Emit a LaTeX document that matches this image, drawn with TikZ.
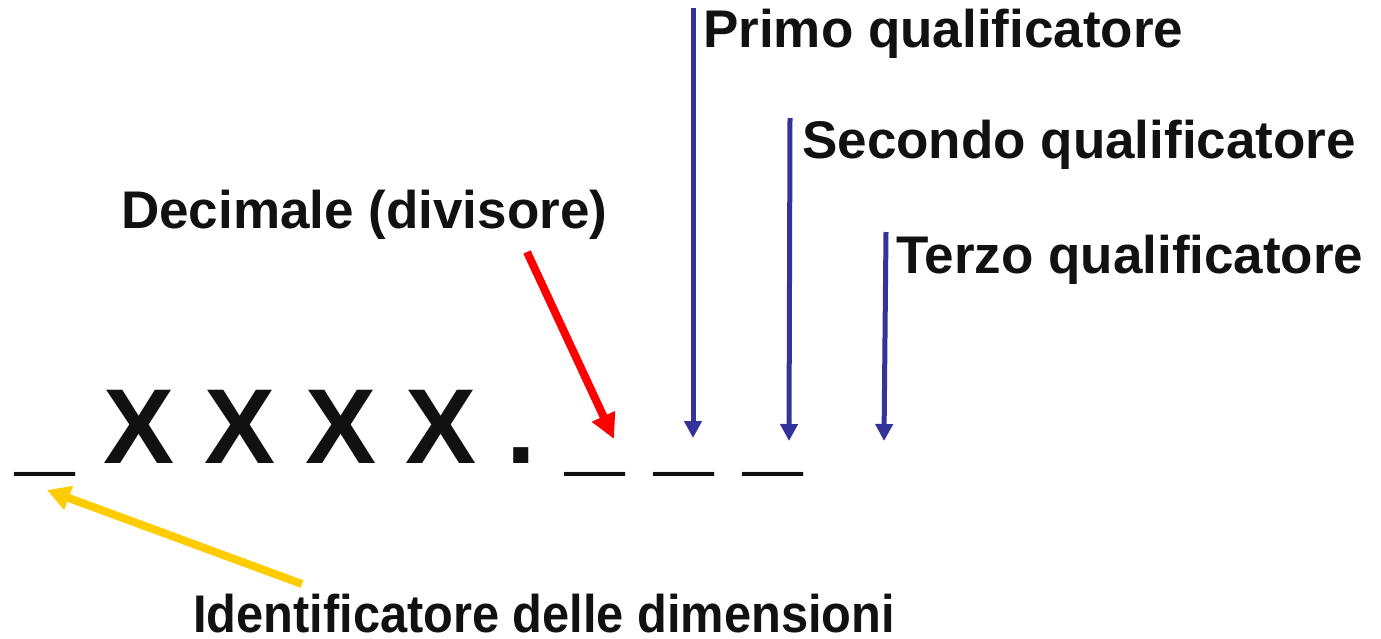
\documentclass[tikz,border=0pt]{standalone}
\usepackage{fontspec}
\setmainfont{Liberation Sans}
\usetikzlibrary{arrows.meta}
\definecolor{txt}{HTML}{111111}
\definecolor{qblue}{HTML}{333399}
\definecolor{qred}{HTML}{FF0000}
\definecolor{qyellow}{HTML}{FFCC00}
\begin{document}
\begin{tikzpicture}[x=1pt,y=-1pt,
  lbl/.style={inner sep=0pt,anchor=base west,text=txt,font=\fontsize{53}{60}\selectfont\bfseries},
  code/.style={inner sep=0pt,anchor=base west,text=txt,font=\fontsize{106.5}{120}\selectfont\bfseries},
  bluearrow/.style={draw=qblue,line width=5pt,-{Triangle[width=17pt,length=17pt]}},
  redarrow/.style={draw=qred,line width=8pt,-{Triangle[width=24pt,length=25pt]}},
  yellowarrow/.style={draw=qyellow,line width=8pt,-{Triangle[width=24pt,length=23pt]}}]
\useasboundingbox[fill=white] (0,0) rectangle (1381,638);
\node[code] (line) at (15,463) {\_ X X X X . \_ \_ \_};
\node[lbl] (primo) at (703,47) {Primo qualificatore};
\node[lbl] (secondo) at (802,158) {Secondo qualificatore};
\node[lbl] (terzo) at (896,273) {Terzo qualificatore};
\node[lbl] (dec) at (121,228) {Decimale (divisore)};
\node[lbl,xscale=0.92] (ident) at (193,632) {Identificatore delle dimensioni};
\coordinate (p1s) at (693,8);    \coordinate (p1e) at (693,438);
\coordinate (p2s) at (790,118);  \coordinate (p2e) at (789,441);
\coordinate (p3s) at (886,232);  \coordinate (p3e) at (884,441);
\coordinate (ds) at (527,252);   \coordinate (de) at (614,439);
\coordinate (is) at (302,584);   \coordinate (ie) at (47,490);
\draw[bluearrow] (p1s) -- (p1e);
\draw[bluearrow] (p2s) -- (p2e);
\draw[bluearrow] (p3s) -- (p3e);
\draw[redarrow] (ds) -- (de);
\draw[yellowarrow] (is) -- (ie);
\end{tikzpicture}
\end{document}
